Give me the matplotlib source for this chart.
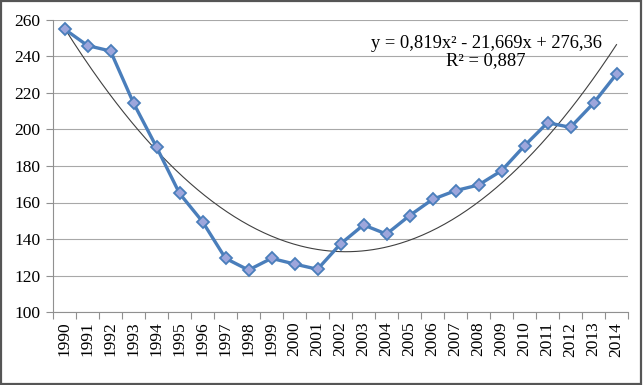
import numpy as np
import matplotlib.pyplot as plt

years = [str(y) for y in range(1990, 2015)]
values = [255, 246, 243, 214.5, 190.4, 165, 149.5, 129.4, 123, 129.4, 126.3, 123.4,
          137.3, 147.7, 142.7, 152.8, 161.7, 166.5, 169.6, 177.4, 191.1, 203.7,
          201.2, 214.4, 230.4]
# poly trend coefficients as shown on the chart
coef = [0.819, -21.669, 276.36]
eq_text = "y = 0,819x² - 21,669x + 276,36\nR² = 0,887"

plt.rcParams['font.family'] = ['Liberation Serif', 'DejaVu Serif']

fig = plt.figure(figsize=(6.44, 3.85), dpi=100)
ax = fig.add_axes([53/644, 73/385, 575/644, 292/385])

x = np.arange(1, len(years) + 1)
xs = np.linspace(1, len(years), 300)
ax.plot(xs, np.polyval(coef, xs), color='#404040', lw=0.8, zorder=2)
ax.plot(x, values, color='#4a7ebb', lw=2.4, marker='D', ms=6.5,
        markerfacecolor='#9da6dc', markeredgecolor='#4a7ebb', markeredgewidth=1.3, zorder=3)

ax.set_xlim(0.5, len(years) + 0.5)
ax.set_ylim(100, 260)
ax.set_yticks(range(100, 261, 20))
ax.set_xticks(x)
ax.set_xticklabels(years, rotation=90)
ax.set_xticks(np.arange(0.5, len(years) + 1), minor=True)
ax.tick_params(axis='x', which='major', length=0, pad=7, labelsize=12.5)
ax.tick_params(axis='x', which='minor', length=5, color='#909090', width=0.8)
ax.tick_params(axis='y', length=5, color='#909090', width=0.8, labelsize=12.5, pad=4)
ax.grid(axis='y', color='#a8a8a8', lw=0.8)
ax.set_axisbelow(True)
for s in ['top', 'right']:
    ax.spines[s].set_visible(False)
for s in ['left', 'bottom']:
    ax.spines[s].set_color('#909090')
    ax.spines[s].set_linewidth(0.8)

fig.text(486/644, 1 - 52/385, eq_text, ha='center', va='center', fontsize=13.3,
         linespacing=1.0)

border = plt.Rectangle((0.002, 0.003), 0.994, 0.994, transform=fig.transFigure,
                       fill=False, edgecolor='#555555', lw=1.6)
fig.patches.append(border)

fig.savefig('out.png', dpi=100)
